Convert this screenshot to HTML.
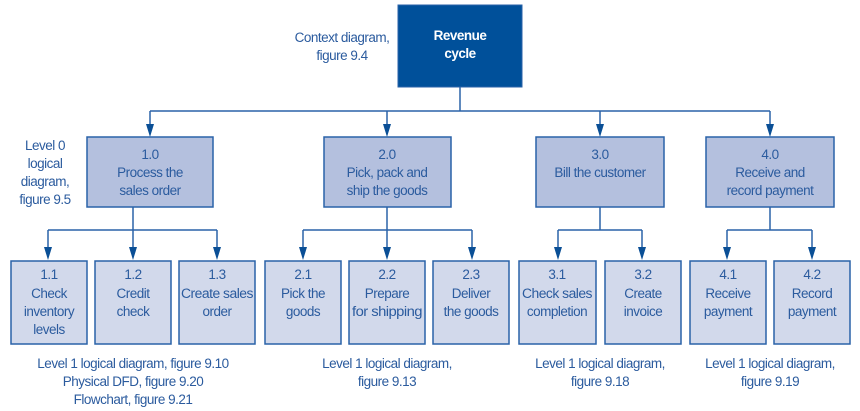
<!DOCTYPE html>
<html><head><meta charset="utf-8"><style>
html,body{margin:0;padding:0;background:#fff;width:860px;height:411px;overflow:hidden}
svg text{font-family:"Liberation Sans",sans-serif;font-size:13.5px;letter-spacing:-0.5px;fill:#2b5b9e;text-anchor:middle}
</style></head><body>
<svg width="860" height="411" xmlns="http://www.w3.org/2000/svg">
<defs><path id="h" d="M-4,-13 L4,-13 L0,0 z" fill="#0a4f96"/></defs>
<g stroke="#2a62a8" stroke-width="1.5" fill="none">
<line x1="460" y1="87" x2="460" y2="111"/>
<line x1="150" y1="111" x2="770" y2="111"/>
<line x1="150" y1="111" x2="150" y2="130"/>
<line x1="387" y1="111" x2="387" y2="130"/>
<line x1="600" y1="111" x2="600" y2="130"/>
<line x1="770" y1="111" x2="770" y2="130"/>
<line x1="133" y1="207" x2="133" y2="250"/>
<line x1="48" y1="230" x2="217" y2="230"/>
<line x1="48" y1="230" x2="48" y2="250"/>
<line x1="217" y1="230" x2="217" y2="250"/>
<line x1="387" y1="207" x2="387" y2="250"/>
<line x1="303" y1="230" x2="472" y2="230"/>
<line x1="303" y1="230" x2="303" y2="250"/>
<line x1="472" y1="230" x2="472" y2="250"/>
<line x1="600" y1="207" x2="600" y2="230"/>
<line x1="558" y1="230" x2="642" y2="230"/>
<line x1="558" y1="230" x2="558" y2="250"/>
<line x1="642" y1="230" x2="642" y2="250"/>
<line x1="770" y1="207" x2="770" y2="230"/>
<line x1="727" y1="230" x2="812" y2="230"/>
<line x1="727" y1="230" x2="727" y2="250"/>
<line x1="812" y1="230" x2="812" y2="250"/>
</g>
<use href="#h" x="150" y="137"/><use href="#h" x="387" y="137"/><use href="#h" x="600" y="137"/><use href="#h" x="770" y="137"/>
<use href="#h" x="48" y="260"/><use href="#h" x="133" y="260"/><use href="#h" x="217" y="260"/>
<use href="#h" x="303" y="260"/><use href="#h" x="387" y="260"/><use href="#h" x="472" y="260"/>
<use href="#h" x="558" y="260"/><use href="#h" x="642" y="260"/><use href="#h" x="727" y="260"/><use href="#h" x="812" y="260"/>
<rect x="398" y="5" width="124" height="82" fill="#00509a" stroke="#2a62a8"/>
<text x="460" y="40" style="fill:#fff;font-weight:bold">Revenue</text>
<text x="460" y="58" style="fill:#fff;font-weight:bold">cycle</text>
<text x="342" y="42">Context diagram,</text>
<text x="342" y="60">figure 9.4</text>
<text x="45" y="150">Level 0</text>
<text x="45" y="168">logical</text>
<text x="45" y="186">diagram,</text>
<text x="45" y="204">figure 9.5</text>
<g fill="#b4c0de" stroke="#2a62a8" stroke-width="1.5">
<rect x="87" y="137" width="126" height="70"/>
<rect x="324" y="137" width="127" height="70"/>
<rect x="536" y="137" width="128" height="70"/>
<rect x="706" y="137" width="128" height="70"/>
</g>
<text x="150" y="159">1.0</text><text x="150" y="177">Process the</text><text x="150" y="195">sales order</text>
<text x="387" y="159">2.0</text><text x="387" y="177">Pick, pack and</text><text x="387" y="195">ship the goods</text>
<text x="600" y="159">3.0</text><text x="600" y="177">Bill the customer</text>
<text x="770" y="159">4.0</text><text x="770" y="177">Receive and</text><text x="770" y="195">record payment</text>
<g fill="#d2d9eb" stroke="#2a62a8" stroke-width="1.5">
<rect x="11" y="261" width="76" height="83"/>
<rect x="95" y="261" width="76" height="83"/>
<rect x="179" y="261" width="76" height="83"/>
<rect x="265" y="261" width="76" height="83"/>
<rect x="349" y="261" width="76" height="83"/>
<rect x="433" y="261" width="76" height="83"/>
<rect x="519" y="261" width="77" height="83"/>
<rect x="605" y="261" width="76" height="83"/>
<rect x="690" y="261" width="76" height="83"/>
<rect x="774" y="261" width="76" height="83"/>
</g>
<text x="49" y="279">1.1</text><text x="49" y="298">Check</text><text x="49" y="316">inventory</text><text x="49" y="334">levels</text>
<text x="133" y="279">1.2</text><text x="133" y="298">Credit</text><text x="133" y="316">check</text>
<text x="217" y="279">1.3</text><text x="217" y="298" textLength="72" lengthAdjust="spacingAndGlyphs">Create sales</text><text x="217" y="316">order</text>
<text x="303" y="279">2.1</text><text x="303" y="298">Pick the</text><text x="303" y="316">goods</text>
<text x="387" y="279">2.2</text><text x="387" y="298">Prepare</text><text x="387" y="316" textLength="70" lengthAdjust="spacingAndGlyphs">for shipping</text>
<text x="471" y="279">2.3</text><text x="471" y="298">Deliver</text><text x="471" y="316">the goods</text>
<text x="557" y="279">3.1</text><text x="557" y="298" textLength="70" lengthAdjust="spacingAndGlyphs">Check sales</text><text x="557" y="316">completion</text>
<text x="643" y="279">3.2</text><text x="643" y="298">Create</text><text x="643" y="316">invoice</text>
<text x="728" y="279">4.1</text><text x="728" y="298">Receive</text><text x="728" y="316">payment</text>
<text x="812" y="279">4.2</text><text x="812" y="298">Record</text><text x="812" y="316">payment</text>
<text x="133" y="368">Level 1 logical diagram, figure 9.10</text>
<text x="133" y="386">Physical DFD, figure 9.20</text>
<text x="133" y="404">Flowchart, figure 9.21</text>
<text x="387" y="368">Level 1 logical diagram,</text>
<text x="387" y="386">figure 9.13</text>
<text x="600" y="368">Level 1 logical diagram,</text>
<text x="600" y="386">figure 9.18</text>
<text x="770" y="368">Level 1 logical diagram,</text>
<text x="770" y="386">figure 9.19</text>
</svg>
</body></html>
